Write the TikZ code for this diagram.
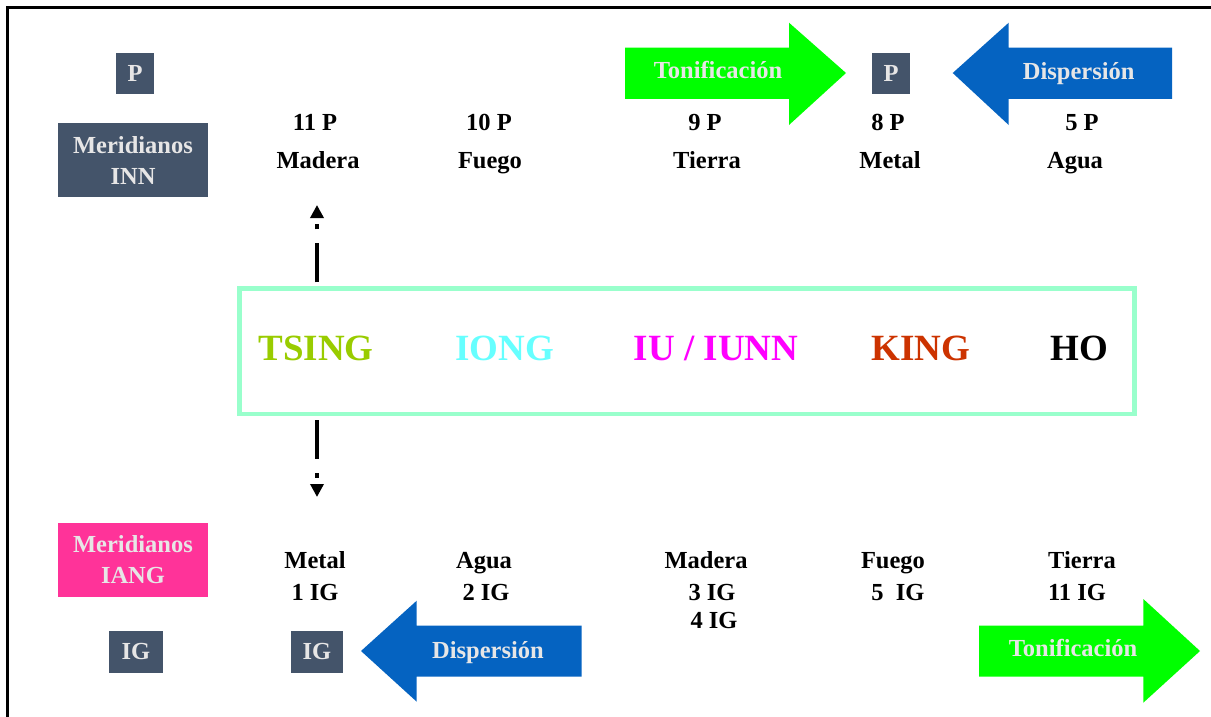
\documentclass[tikz,border=0pt]{standalone}
\usepackage{fontspec}
\setmainfont{Liberation Serif}
\usetikzlibrary{arrows.meta}

\definecolor{pizarra}{HTML}{44546A}
\definecolor{rosa}{HTML}{FF3399}
\definecolor{verdeflecha}{HTML}{00FF00}
\definecolor{azulflecha}{HTML}{0563C1}
\definecolor{menta}{HTML}{99FFCC}
\definecolor{grisclaro}{HTML}{E7E6E6}
\definecolor{oliva}{HTML}{99CC00}
\definecolor{cian}{HTML}{66FFFF}
\definecolor{fucsia}{HTML}{FF00FF}
\definecolor{ladrillo}{HTML}{CC3300}

\begin{document}
\begin{tikzpicture}[x=1pt, y=-1pt,
	etiq/.style={font=\fontsize{24.5}{30}\selectfont\bfseries, anchor=base, inner sep=0pt},
	grande/.style={font=\fontsize{37}{44}\selectfont\bfseries, anchor=base, inner sep=0pt},
	caja/.style={fill=pizarra, text=grisclaro, inner sep=0pt, align=center,
		font=\fontsize{24.5}{31}\selectfont\bfseries},
	enflecha/.style={etiq, text=grisclaro},
	punteada/.style={line width=4.5pt, dash pattern=on 0pt off 4pt on 39pt off 14pt on 5pt off 20pt,
		-{Triangle[width=13pt, length=13pt]}}]
	    \useasboundingbox (0,0) rectangle (1211,717);
	    \draw[line width=3pt] (7.3,717) -- (7.3,7.3) -- (1211,7.3);
	    % flechas grandes
	    \fill[verdeflecha] (625,47.7) -- (789,47.7) -- (789,22.7) -- (846,73) -- (789,125) -- (789,99) -- (625,99) -- cycle;
	    \fill[azulflecha] (1172,47.7) -- (1008.7,47.7) -- (1008.7,22.7) -- (952.7,73) -- (1008.7,125) -- (1008.7,99) -- (1172,99) -- cycle;
	    \fill[azulflecha] (581.7,625.7) -- (416.7,625.7) -- (416.7,600.7) -- (361,651) -- (416.7,701.7) -- (416.7,676.7) -- (581.7,676.7) -- cycle;
	    \fill[verdeflecha] (979,625.7) -- (1143.3,625.7) -- (1143.3,599) -- (1200,651) -- (1143.3,702.7) -- (1143.3,676.7) -- (979,676.7) -- cycle;
	    \node[enflecha] (tonif1) at (718,78) {Tonificación};
	    \node[enflecha] (disp1) at (1078.7,80) {Dispersión};
	    \node[enflecha] (disp2) at (488,658) {Dispersión};
	    \node[enflecha] (tonif2) at (1073,656.7) {Tonificación};
	    % cajas
	    \node[caja, minimum width=38pt, minimum height=41pt] (p1) at (135,73.5) {P};
	    \node[caja, minimum width=38pt, minimum height=41pt] (p2) at (891,73.3) {P};
	    \node[caja, minimum width=150pt, minimum height=74pt] (inn) at (133,160) {Meridianos\\INN};
	    \node[caja, fill=rosa, minimum width=150pt, minimum height=74pt] (iang) at (133,559.7) {Meridianos\\IANG};
	    \node[caja, minimum width=54pt, minimum height=42pt] (ig1) at (136,651.5) {IG};
	    \node[caja, minimum width=52pt, minimum height=42pt] (ig2) at (317,651.5) {IG};
	    % fila de arriba
	    \node[etiq] (p11) at (315,130) {11 P};
	    \node[etiq] (p10) at (489,130) {10 P};
	    \node[etiq] (p9) at (705,130) {9 P};
	    \node[etiq] (p8) at (888,130) {8 P};
	    \node[etiq] (p5) at (1082,130) {5 P};
	    \node[etiq] (madera1) at (318,168) {Madera};
	    \node[etiq] (fuego1) at (490,168) {Fuego};
	    \node[etiq] (tierra1) at (707,168) {Tierra};
	    \node[etiq] (metal1) at (890,168) {Metal};
	    \node[etiq] (agua1) at (1075,168) {Agua};
	    % fila de abajo
	    \node[etiq] (metal2) at (315,568) {Metal};
	    \node[etiq] (agua2) at (484,568) {Agua};
	    \node[etiq] (madera2) at (706,568) {Madera};
	    \node[etiq] (fuego2) at (893,568) {Fuego};
	    \node[etiq] (tierra2) at (1082,568) {Tierra};
	    \node[etiq] (ig1n) at (315,600.7) {1 IG};
	    \node[etiq] (ig2n) at (486,600.7) {2 IG};
	    \node[etiq] (ig3n) at (712,600.7) {3 IG};
	    \node[etiq] (ig4n) at (714,628) {4 IG};
	    \node[etiq] (ig5n) at (898,600.7) {5~ IG};
	    \node[etiq] (ig11n) at (1077,600.7) {11 IG};
	    % recuadro central
	    \node[draw=menta, line width=4.5pt, minimum width=895pt, minimum height=125.5pt, inner sep=0pt] (marco) at (687,351.25) {};
	    \node[grande, text=oliva] (tsing) at (316,360) {TSING};
	    \node[grande, text=cian] (iong) at (504.5,360) {IONG};
	    \node[grande, text=fucsia] (iu) at (716,360) {IU / IUNN};
	    \node[grande, text=ladrillo] (king) at (921,360) {KING};
	    \node[grande] (ho) at (1079.5,360) {HO};
	    \coordinate (arriba) at (317,205);
	    \coordinate (abajo) at (317,497);
	    \draw[punteada] (marco.north -| arriba) -- (arriba);
	    \draw[punteada] (marco.south -| abajo) -- (abajo);
	\end{tikzpicture}
\end{document}
